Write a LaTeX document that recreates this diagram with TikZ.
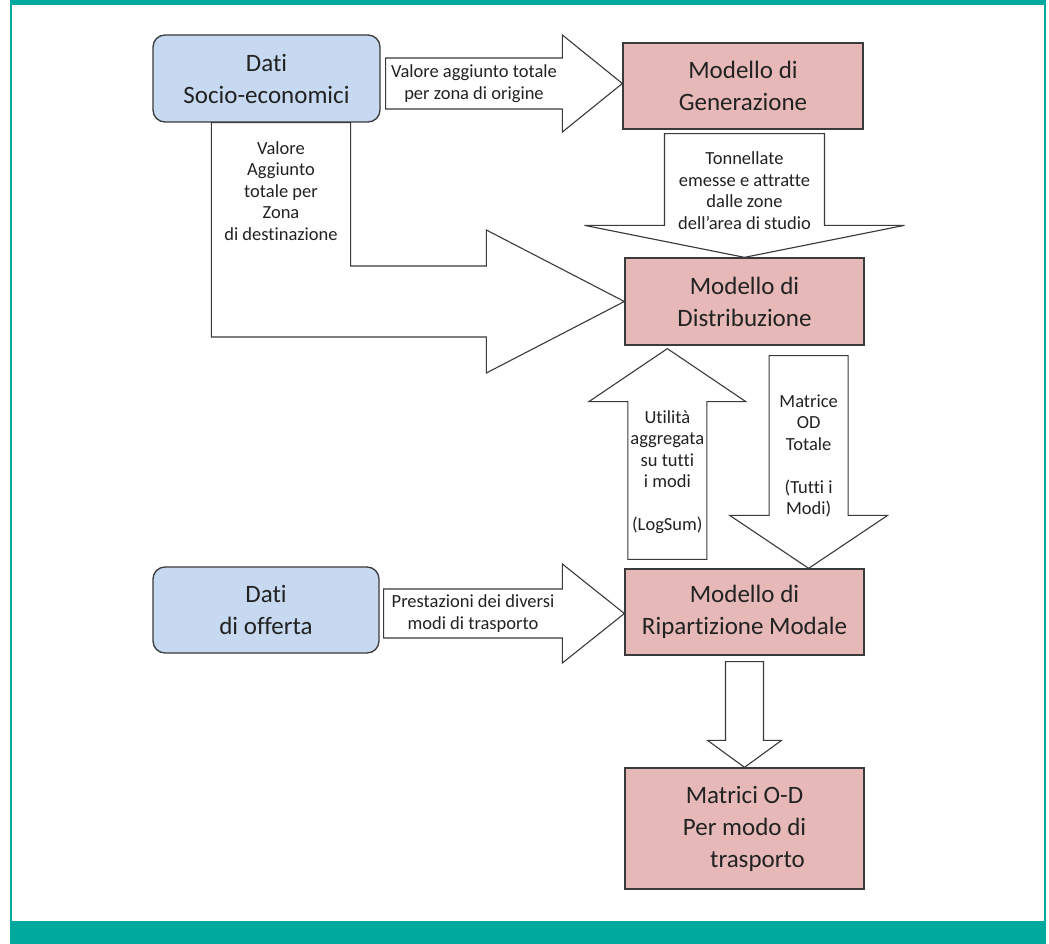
\documentclass[tikz,border=0pt]{standalone}
\usepackage{fontspec}
\setmainfont{Carlito}[Ligatures={NoCommon,NoContextual}]
\usetikzlibrary{calc}
\definecolor{teal1}{HTML}{00A99D}
\definecolor{boxblue}{HTML}{C6D9F0}
\definecolor{boxpink}{HTML}{E6B9B8}
\definecolor{edge}{HTML}{3A3A3A}
\definecolor{txt}{HTML}{222222}
\newcommand\blkh[5]{\draw[blk] ($(#1)+(0,{-(#4)})$) -- ($(#2)+({-(#3)},{-(#4)})$) -- ($(#2)+({-(#3)},{-(#5)})$) -- (#2) -- ($(#2)+({-(#3)},#5)$) -- ($(#2)+({-(#3)},#4)$) -- ($(#1)+(0,#4)$) -- cycle;}
\newcommand\blkv[5]{\draw[blk] ($(#1)+({-(#4)},0)$) -- ($(#2)+({-(#4)},{-(#3)})$) -- ($(#2)+({-(#5)},{-(#3)})$) -- (#2) -- ($(#2)+(#5,{-(#3)})$) -- ($(#2)+(#4,{-(#3)})$) -- ($(#1)+(#4,0)$) -- cycle;}
\begin{document}
\begin{tikzpicture}[x=1pt,y=-1pt,
  box/.style={draw=edge, line width=1.3pt, text=txt, align=center, font=\fontsize{25}{32}\selectfont, inner sep=0pt},
  bluebox/.style={box, fill=boxblue, rounded corners=12pt},
  pinkbox/.style={box, fill=boxpink},
  blk/.style={draw=edge, fill=white, line width=1.1pt, line join=miter},
  lbl/.style={align=center, text=txt, font=\fontsize{18.5}{21.5}\selectfont, inner sep=0pt}]
\useasboundingbox (0,0) rectangle (1049,944);
\fill[white] (0,0) rectangle (1049,944);
\fill[teal1] (10,0) rectangle (1046,5);
\fill[teal1] (10,0) rectangle (12,944);
\fill[teal1] (1044,0) rectangle (1046,944);
\fill[teal1] (10,921) rectangle (1046,944);

\node[bluebox, minimum width=227pt, minimum height=87pt] (soc) at (266.5,78.5) {Dati\\Socio-economici};
\node[pinkbox, minimum width=240pt, minimum height=86pt] (gen) at (743,86) {Modello di\\Generazione};
\node[pinkbox, minimum width=239pt, minimum height=87pt] (dist) at (744.5,301.5) {Modello di\\Distribuzione};
\node[pinkbox, minimum width=239pt, minimum height=86pt] (rip) at (744.5,612) {Modello di\\Ripartizione Modale};
\node[bluebox, minimum width=226pt, minimum height=86pt] (off) at (266,610) {Dati\\di offerta};
\node[pinkbox, minimum width=239pt, minimum height=121pt] (mat) at (744.5,828.5) {Matrici O-D\\Per modo di\\\hspace*{26pt}trasporto};

% arrow 1
\coordinate (t1) at ($(gen.west)+(0,-2.5)$);
\coordinate (s1) at ($(t1 -| soc.east)+(5,0)$);
\blkh{s1}{t1}{60}{25.5}{48.5}
\node[lbl] (l1) at ($(s1)!0.5!(t1)+(-30,0)$) {Valore aggiunto totale\\per zona di origine};

% bent arrow
\coordinate (bO) at ($(soc.south west)+(59,0)$);
\coordinate (bI) at ($(soc.south east)+(-30,0)$);
\coordinate (bT) at (dist.west);
\draw[blk] (bO) -- ($(bO |- bT)+(0,35.5)$) -- ($(bT)+(-138,35.5)$) -- ($(bT)+(-138,71.5)$) -- (bT) -- ($(bT)+(-138,-71.5)$) -- ($(bT)+(-138,-35.5)$) -- ($(bI |- bT)+(0,-35.5)$) -- (bI) -- cycle;
\node[lbl] (l2) at ($(bO)!0.5!(bI)+(0,68)$) {Valore\\Aggiunto\\totale per\\Zona\\di destinazione};

% Tonnellate
\coordinate (t2) at (dist.north);
\coordinate (s2) at ($(gen.south -| t2)+(0,4)$);
\blkv{s2}{t2}{32}{80}{160}
\node[lbl] (l3) at ($(s2)!0.5!(t2)+(0,-5)$) {Tonnellate\\emesse e attratte\\dalle zone\\dell’area di studio};

% Utilita up
\coordinate (t3) at ($(dist.south west)+(43,3)$);
\coordinate (s3) at ($(t3 |- rip.north)+(0,-9)$);
\blkv{s3}{t3}{-53}{39.5}{78.5}
\node[lbl] (l4) at ($(s3)!0.5!(t3)+(0,18)$) {Utilità\\aggregata\\su tutti\\i modi\\\mbox{}\\(LogSum)};

% Matrice down
\coordinate (s4) at ($(dist.south east)+(-56,10)$);
\coordinate (t4) at (s4 |- rip.north);
\blkv{s4}{t4}{53}{39.5}{79}
\node[lbl] (l5) at ($(s4)!0.5!(t4)+(0,-6)$) {Matrice\\OD\\Totale\\\mbox{}\\(Tutti i\\Modi)};

% Prestazioni
\coordinate (t6) at ($(rip.west)+(0,1.5)$);
\coordinate (s6) at ($(t6 -| off.east)+(4,0)$);
\blkh{s6}{t6}{62}{24.5}{49.5}
\node[lbl] (l6) at ($(s6)!0.5!(t6)+(-31,0)$) {Prestazioni dei diversi\\modi di trasporto};

% small down
\coordinate (s5) at ($(rip.south)+(0,6)$);
\coordinate (t5) at (mat.north);
\blkv{s5}{t5}{27}{19}{37}
\end{tikzpicture}
\end{document}
